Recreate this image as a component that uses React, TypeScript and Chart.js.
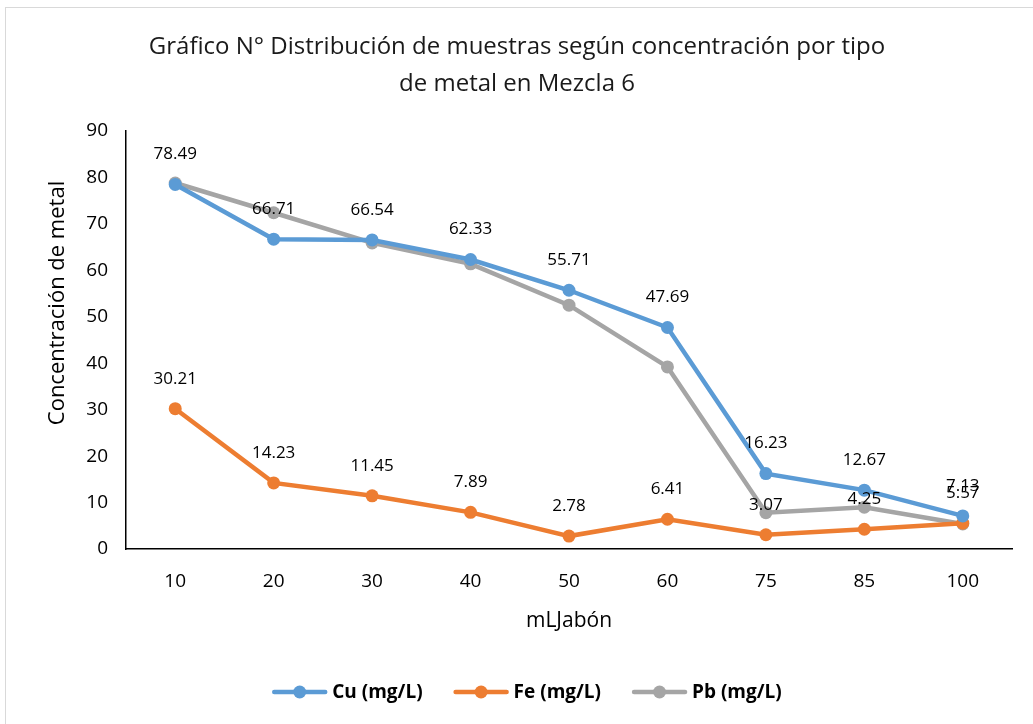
import React, { useEffect, useRef } from "react";
import { Chart, registerables } from "chart.js";

Chart.register(...registerables);

const categories = ["10", "20", "30", "40", "50", "60", "75", "85", "100"];
const cuValues = [78.49, 66.71, 66.54, 62.33, 55.71, 47.69, 16.23, 12.67, 7.13];
const feValues = [30.21, 14.23, 11.45, 7.89, 2.78, 6.41, 3.07, 4.25, 5.57];
const pbValues = [78.8, 72.4, 65.9, 61.4, 52.5, 39.2, 7.8, 9.0, 5.4];
const seriesNames = ["Cu (mg/L)", "Fe (mg/L)", "Pb (mg/L)"];
const seriesColors = ["#5B9BD5", "#ED7D31", "#A5A5A5"];
const labeledSeries = [true, true, false];
const titleLines = [
  "Gráfico N° Distribución de muestras según concentración por tipo",
  "de metal en Mezcla 6",
];
const yTitle = "Concentración de metal";
const xTitle = "mLJabón";

const FONT = "'Open Sans', 'Noto Sans', sans-serif";

const textPlugin = {
  id: "textPlugin",
  afterDraw(chart: any) {
    const ctx = chart.ctx as CanvasRenderingContext2D;
    const area = chart.chartArea;
    ctx.save();
    // Title
    ctx.fillStyle = "#1a1a1a";
    ctx.textAlign = "center";
    ctx.textBaseline = "middle";
    ctx.font = `24px ${FONT}`;
    ctx.fillText(titleLines[0], 517, 47);
    ctx.fillText(titleLines[1], 517, 84);
    // Y title
    ctx.save();
    ctx.translate(58, 303);
    ctx.rotate(-Math.PI / 2);
    ctx.font = `22px ${FONT}`;
    ctx.fillStyle = "#000";
    ctx.fillText(yTitle, 0, 0);
    ctx.restore();
    // X title
    ctx.font = `21px ${FONT}`;
    ctx.fillStyle = "#000";
    ctx.fillText(xTitle, (area.left + area.right) / 2, 621);
    // Data labels
    ctx.font = `17px ${FONT}`;
    ctx.fillStyle = "#000";
    chart.data.datasets.forEach((ds: any, i: number) => {
      if (!labeledSeries[i]) return;
      const meta = chart.getDatasetMeta(i);
      meta.data.forEach((pt: any, j: number) => {
        ctx.fillText(ds.data[j].toFixed(2), pt.x, pt.y - 30);
      });
    });
    // Legend
    ctx.font = `bold 19px ${FONT}`;
    const lineLen = 55;
    const gapText = 5;
    const gapItem = 31;
    const widths = seriesNames.map((n) => ctx.measureText(n).width);
    const total =
      widths.reduce((a, b) => a + b, 0) +
      seriesNames.length * (lineLen + gapText) +
      gapItem * (seriesNames.length - 1);
    let x = 527 - total / 2;
    const ly = 692;
    seriesNames.forEach((n, i) => {
      ctx.strokeStyle = seriesColors[i];
      ctx.lineWidth = 4.5;
      ctx.lineCap = "round";
      ctx.beginPath();
      ctx.moveTo(x + 2, ly);
      ctx.lineTo(x + lineLen - 2, ly);
      ctx.stroke();
      ctx.fillStyle = seriesColors[i];
      ctx.beginPath();
      ctx.arc(x + lineLen / 2, ly, 6.5, 0, Math.PI * 2);
      ctx.fill();
      ctx.fillStyle = "#000";
      ctx.textAlign = "left";
      ctx.fillText(n, x + lineLen + gapText, ly + 1);
      x += lineLen + gapText + widths[i] + gapItem;
    });
    ctx.restore();
  },
};

export default function App() {
  const ref = useRef<HTMLCanvasElement>(null);
  useEffect(() => {
    if (!ref.current) return;
    const datasets = [cuValues, feValues, pbValues].map((vals, i) => ({
      label: seriesNames[i],
      data: vals,
      borderColor: seriesColors[i],
      backgroundColor: seriesColors[i],
      borderWidth: 4.5,
      pointRadius: 6.5,
      pointHoverRadius: 6.5,
      pointBorderWidth: 0,
      tension: 0,
    }));
    const chart = new Chart(ref.current, {
      type: "line",
      data: { labels: categories, datasets },
      options: {
        animation: false,
        responsive: false,
        layout: { padding: { left: 0, right: 21, top: 131, bottom: 724 - 549 - 60 } },
        plugins: { legend: { display: false }, title: { display: false }, tooltip: { enabled: false } },
        scales: {
          x: {
            offset: true,
            grid: { display: false, drawTicks: false, offset: true },
            border: { display: true, color: "#000", width: 1.5 },
            ticks: { color: "#000", font: { size: 19, family: FONT }, padding: 21 },
            afterFit: (s: any) => { s.height = 60; },
          },
          y: {
            min: 0,
            max: 90,
            grid: { display: false, drawTicks: false },
            border: { display: true, color: "#000", width: 1.5 },
            ticks: { color: "#000", stepSize: 10, font: { size: 19, family: FONT }, padding: 18 },
            afterFit: (s: any) => { s.width = 126; },
          },
        },
      },
      plugins: [textPlugin],
    });
    return () => chart.destroy();
  }, []);
  return (
    <div style={{ position: "absolute", left: 0, top: 0, width: 1033, height: 724, background: "#fff" }}>
      <canvas ref={ref} width={1033} height={724} style={{ position: "absolute", left: 0, top: 0 }} />
      <div
        style={{
          position: "absolute",
          left: 5,
          top: 7,
          width: 1040,
          height: 730,
          borderLeft: "1px solid #d9d9d9",
          borderTop: "1px solid #d9d9d9",
          pointerEvents: "none",
        }}
      />
    </div>
  );
}
